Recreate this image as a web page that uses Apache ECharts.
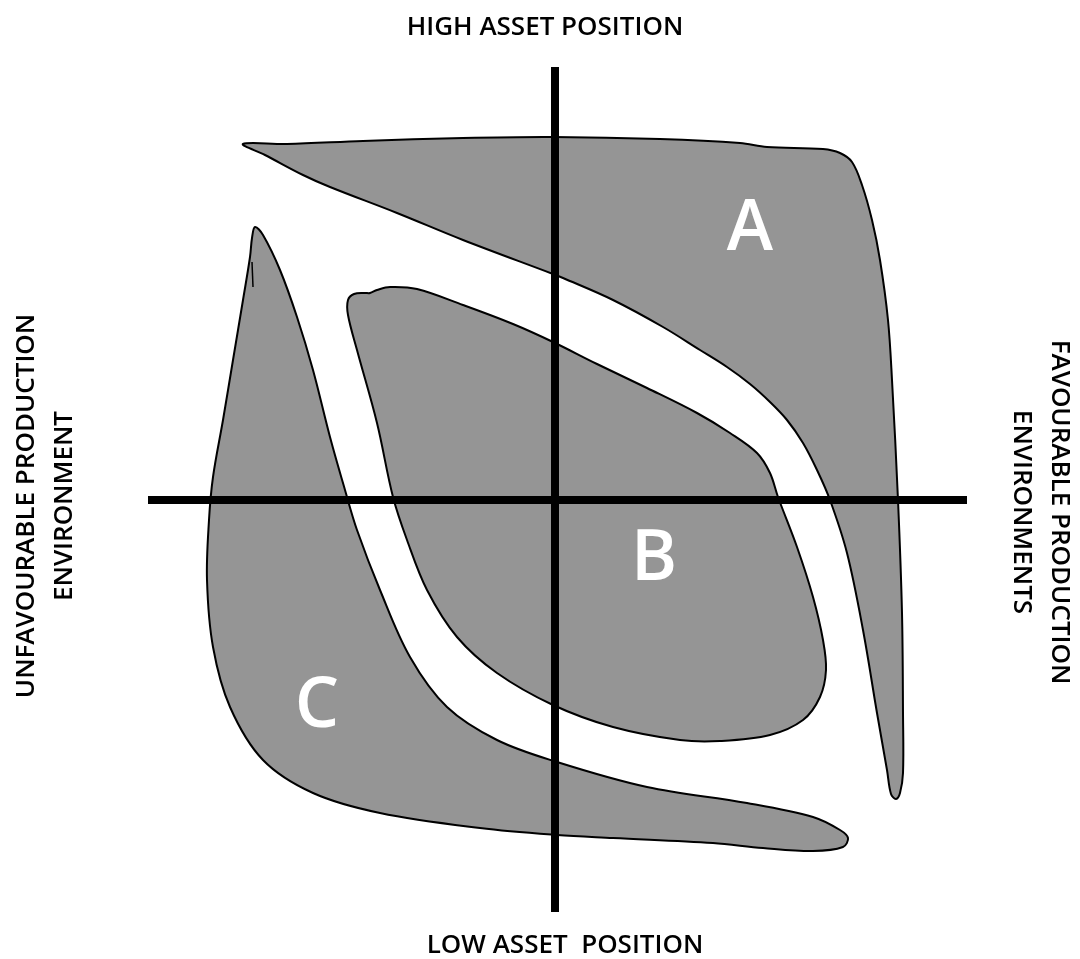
<!DOCTYPE html>
<html>
<head>
<meta charset="utf-8">
<script src="https://cdn.jsdelivr.net/npm/echarts@6/dist/echarts.min.js"></script>
<style>
  html, body { margin: 0; padding: 0; background: #fff; }
  #quadrant-chart { width: 1080px; height: 959px; }
</style>
</head>
<body>
<div id="quadrant-chart"></div>
<script>
// axes cross at 0,0 ; x = production environment, y = asset position
const xRange = [-407, 412];
const yRange = [-412, 433];

// outline of group A (upper right)
const shapeA = [
  [-312, 356], [-268, 356], [-192, 359], [-92, 362], [-2, 363], [105, 361],
  [185, 357], [212, 353], [268, 351], [285, 347], [297, 338], [307, 315],
  [317, 280], [325, 240], [333, 180], [337, 120], [343, 0], [347, -113],
  [348, -213], [348, -273], [345, -293], [341, -299], [336, -294], [332, -270],
  [322, -213], [308, -130], [292, -53], [275, 0], [262, 30], [248, 57],
  [232, 80], [215, 98], [195, 116], [172, 133], [145, 150], [108, 173],
  [58, 200], [8, 222], [-2, 226], [-92, 260], [-158, 287], [-225, 313],
  [-252, 325], [-290, 345]
];

// outline of group B (centre)
const shapeB = [
  [-207, 200], [-201, 206], [-190, 207], [-185, 207], [-178, 210], [-165, 213],
  [-138, 211], [-92, 195], [-42, 176], [-2, 158], [42, 136], [92, 112],
  [142, 87], [175, 67], [202, 47], [215, 27], [223, 3], [242, -47],
  [258, -97], [268, -140], [271, -170], [265, -197], [248, -220], [215, -235],
  [165, -241], [125, -240], [58, -227], [-2, -205], [-58, -173], [-98, -137],
  [-128, -90], [-148, -40], [-162, 3], [-178, 77], [-198, 150], [-207, 185]
];

// outline of group C (lower left)
const shapeC = [
  [-300, 273], [-292, 265], [-275, 230], [-258, 183], [-242, 130], [-225, 63],
  [-210, 10], [-198, -30], [-175, -90], [-145, -157], [-108, -207], [-58, -240],
  [2, -262], [92, -287], [192, -303], [258, -317], [285, -330], [293, -338],
  [288, -347], [258, -351], [208, -348], [158, -343], [58, -338], [2, -335],
  [-75, -328], [-175, -313], [-242, -293], [-292, -260], [-325, -207], [-342, -147],
  [-348, -80], [-346, -20], [-342, 23], [-332, 80], [-322, 140], [-312, 200],
  [-305, 243], [-303, 262]
];

// small stray pen stroke inside C
const strayStroke = [[-303, 238], [-302, 213]];

const groupNames = ["A", "B", "C"];
const groupCentres = [[195, 270], [99, -60], [-238, -207]];

const topLabel = "HIGH ASSET POSITION";
const bottomLabel = "LOW ASSET  POSITION";
const leftLabel = "UNFAVOURABLE PRODUCTION\nENVIRONMENT";
const rightLabel = "FAVOURABLE PRODUCTION\nENVIRONMENTS";

const chart = echarts.init(document.getElementById("quadrant-chart"));

function blobSeries(points) {
  return {
    type: "custom",
    silent: true,
    data: [[0, 0]],
    renderItem: function (params, api) {
      return {
        type: "polygon",
        shape: {
          points: points.map(function (p) { return api.coord(p); }),
          smooth: 0.35
        },
        style: { fill: "#959595", stroke: "#000", lineWidth: 2 }
      };
    }
  };
}

const labelFont = {
  fill: "#000",
  font: "600 26px 'Open Sans', sans-serif",
  textAlign: "center",
  textVerticalAlign: "middle",
  lineHeight: 38
};

const option = {
  backgroundColor: "#fff",
  animation: false,
  grid: { left: 148, right: 113, top: 67, bottom: 47 },
  xAxis: {
    type: "value",
    min: xRange[0],
    max: xRange[1],
    z: 5,
    axisLine: { show: true, onZero: true, lineStyle: { color: "#000", width: 8, cap: "butt" } },
    axisTick: { show: false },
    axisLabel: { show: false },
    splitLine: { show: false }
  },
  yAxis: {
    type: "value",
    min: yRange[0],
    max: yRange[1],
    z: 5,
    axisLine: { show: true, onZero: true, lineStyle: { color: "#000", width: 8, cap: "butt" } },
    axisTick: { show: false },
    axisLabel: { show: false },
    splitLine: { show: false }
  },
  graphic: [
    { type: "text", x: 545, y: 28, style: Object.assign({ text: topLabel }, labelFont) },
    { type: "text", x: 565, y: 946, style: Object.assign({ text: bottomLabel }, labelFont) },
    { type: "text", x: 46, y: 506, rotation: Math.PI / 2, style: Object.assign({ text: leftLabel }, labelFont) },
    { type: "text", x: 1040, y: 512, rotation: -Math.PI / 2, style: Object.assign({ text: rightLabel }, labelFont) }
  ],
  series: [
    blobSeries(shapeA),
    blobSeries(shapeB),
    blobSeries(shapeC),
    {
      type: "line",
      data: strayStroke,
      symbol: "none",
      silent: true,
      lineStyle: { color: "#000", width: 1.5 }
    },
    {
      type: "custom",
      silent: true,
      z: 3,
      data: groupCentres,
      renderItem: function (params, api) {
        const pt = api.coord([api.value(0), api.value(1)]);
        return {
          type: "text",
          x: pt[0],
          y: pt[1],
          style: {
            text: groupNames[params.dataIndex],
            fill: "#ffffff",
            font: "600 70px 'Open Sans', sans-serif",
            textAlign: "center",
            textVerticalAlign: "middle"
          }
        };
      }
    }
  ]
};

chart.setOption(option);
</script>
</body>
</html>
